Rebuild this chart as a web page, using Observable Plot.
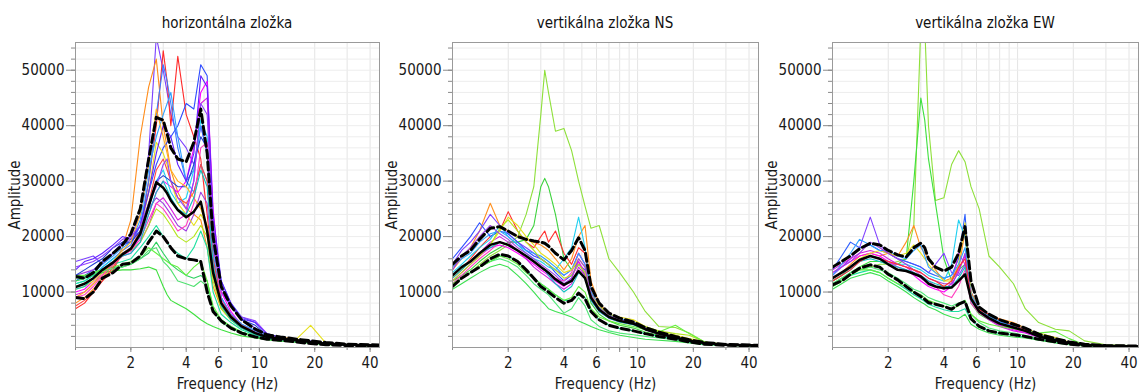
<!DOCTYPE html>
<html><head><meta charset="utf-8">
<script src="https://cdn.jsdelivr.net/npm/d3@7"></script>
<script src="https://cdn.jsdelivr.net/npm/@observablehq/plot@0.6"></script>
<style>
body{margin:0;background:#fff;font-family:"DejaVu Sans Condensed","DejaVu Sans",sans-serif;}
#row{display:flex;width:1139px;height:392px;overflow:hidden;}
.title{height:30px;box-sizing:border-box;padding-top:14px;line-height:18px;font-size:15px;color:#111;text-align:center;white-space:nowrap;}
svg{display:block;}
#row svg text{font-size:14px !important;font-family:"DejaVu Sans Condensed","DejaVu Sans",sans-serif !important;fill:#1a1a1a;}
#row svg [aria-label$="label"] text{font-size:15px !important;}
</style></head><body><div id="row"></div>
<script>
// Frequencies (Hz) shared by every series
const FREQ = [1.0, 1.12, 1.25, 1.4, 1.6, 1.8, 2.0, 2.25, 2.5, 2.75, 3.0, 3.15, 3.3, 3.6, 4.0, 4.4, 4.8, 5.2, 5.6, 6.2, 7.0, 8.0, 9.5, 11, 13, 16, 19, 23, 30, 45];
// Amplitudes below are in thousands

// ---- horizontálna zložka ----
const H_MEAN  = [10.9, 11.5, 12.5, 14.0, 15.3, 16.8, 17.8, 20.5, 25.5, 29.8, 28.8, 27.8, 26.5, 24.8, 23.5, 24.5, 26.3, 21.0, 13.5, 8.0, 5.5, 3.8, 2.6, 1.9, 1.6, 1.3, 1.0, 0.7, 0.5, 0.35];
const H_UPPER = [12.8, 12.5, 13.5, 15.5, 17.0, 18.5, 20.5, 25.0, 34.0, 41.5, 41.0, 38.5, 36.0, 34.0, 33.5, 37.0, 43.0, 35.0, 20.0, 11.0, 7.5, 5.0, 3.3, 2.3, 1.9, 1.5, 1.2, 0.9, 0.6, 0.45];
const H_LOWER = [9.0, 8.8, 10.0, 12.5, 13.5, 15.0, 15.2, 16.5, 19.0, 21.0, 20.0, 19.0, 18.0, 16.5, 16.0, 15.8, 15.5, 10.0, 6.5, 4.8, 3.5, 2.6, 1.9, 1.5, 1.3, 1.0, 0.7, 0.5, 0.35, 0.25];
const H_COLORS = ["#7b3fff","#ff2a2a","#ff8c1a","#2f4cff","#3d7bff","#ff00ff","#d81ee0","#a040e0","#1ed2f0","#2fa0ff","#e6e01e","#b4e61e","#3ee03e","#2ed060","#64f040","#1ee0a0","#ff4444","#6020ff","#2040d0","#ffb01e","#ff40c0","#10c0c0","#50e070","#9040ff"];
const H_CURVES = [
 [15.5, 16.0, 16.5, 15.0, 17.0, 19.0, 20.0, 24.0, 35.0, 56.0, 50.0, 46.0, 42.0, 38.0, 36.0, 33.0, 40.0, 35.0, 18.0, 10.0, 7.5, 5.0, 3.5, 2.2, 1.8, 1.4, 1.1, 0.8, 0.5, 0.35],
 [7.0, 8.0, 10.0, 12.0, 14.0, 17.0, 17.5, 21.0, 30.0, 40.0, 53.5, 48.0, 40.0, 52.5, 42.0, 38.0, 34.0, 24.0, 14.0, 8.0, 5.5, 4.0, 2.6, 1.8, 1.5, 1.2, 0.9, 0.6, 0.4, 0.3],
 [8.0, 9.0, 10.5, 12.5, 15.0, 18.0, 23.0, 38.0, 47.0, 52.0, 40.0, 36.0, 32.0, 28.0, 25.0, 24.0, 23.0, 18.0, 11.0, 7.0, 5.0, 3.6, 2.4, 1.8, 1.4, 1.2, 0.9, 0.6, 0.4, 0.3],
 [12.0, 13.0, 14.0, 15.5, 17.0, 18.5, 19.0, 22.0, 28.0, 33.0, 36.0, 37.0, 38.0, 40.0, 44.0, 43.0, 51.0, 49.0, 22.0, 12.0, 8.0, 5.5, 4.5, 2.5, 1.8, 1.4, 1.1, 0.8, 0.5, 0.35],
 [11.0, 11.5, 12.5, 14.5, 16.0, 17.5, 18.5, 22.0, 30.0, 42.0, 51.0, 48.0, 44.0, 36.0, 30.0, 32.0, 40.0, 35.0, 16.0, 9.0, 6.0, 4.2, 3.0, 2.0, 1.6, 1.3, 1.0, 0.7, 0.45, 0.3],
 [10.0, 10.5, 12.0, 14.0, 15.5, 17.0, 17.5, 20.0, 24.0, 28.0, 30.0, 29.5, 29.0, 28.0, 30.0, 36.0, 46.0, 48.0, 25.0, 10.0, 6.5, 4.0, 2.8, 1.9, 1.5, 1.2, 0.9, 0.6, 0.4, 0.3],
 [9.5, 10.0, 11.5, 13.5, 15.0, 16.5, 17.0, 19.0, 22.0, 26.0, 27.0, 26.0, 25.0, 23.0, 24.0, 30.0, 44.0, 45.0, 22.0, 9.0, 6.0, 3.8, 2.6, 1.8, 1.4, 1.1, 0.9, 0.6, 0.4, 0.3],
 [13.0, 13.5, 14.0, 15.0, 17.0, 18.5, 19.5, 21.0, 25.0, 27.0, 26.0, 25.0, 24.0, 22.0, 21.0, 24.0, 28.0, 26.0, 15.0, 8.0, 5.5, 4.0, 2.8, 1.9, 1.5, 1.2, 0.9, 0.6, 0.4, 0.3],
 [11.5, 12.0, 13.0, 14.5, 16.0, 17.0, 18.0, 20.0, 25.0, 30.0, 32.0, 30.0, 28.0, 26.0, 27.0, 32.0, 41.0, 38.0, 20.0, 9.0, 5.5, 3.8, 2.6, 1.8, 1.4, 1.1, 0.9, 0.6, 0.4, 0.3],
 [12.0, 12.5, 13.5, 15.0, 16.5, 18.0, 19.0, 23.0, 32.0, 38.0, 42.0, 44.0, 46.0, 38.0, 30.0, 28.0, 33.0, 30.0, 17.0, 9.0, 6.0, 4.2, 3.0, 2.0, 1.6, 1.3, 1.0, 0.7, 0.45, 0.3],
 [10.5, 11.0, 12.0, 13.5, 15.0, 16.5, 18.0, 21.0, 28.0, 37.0, 35.0, 33.0, 30.0, 26.0, 24.0, 22.0, 24.0, 22.0, 13.0, 7.5, 5.0, 3.5, 2.4, 1.8, 1.5, 1.6, 4.0, 0.8, 0.4, 0.3],
 [11.0, 11.5, 12.5, 14.0, 15.5, 17.0, 17.5, 19.0, 22.0, 25.0, 24.0, 23.0, 22.0, 20.0, 19.0, 20.0, 22.0, 20.0, 12.0, 7.0, 5.0, 3.5, 2.4, 1.7, 1.4, 1.1, 0.9, 0.6, 0.4, 0.3],
 [12.0, 12.5, 13.0, 13.5, 13.8, 14.0, 14.0, 14.2, 14.5, 14.0, 11.0, 9.5, 8.5, 7.8, 7.0, 6.0, 5.0, 4.3, 3.8, 3.2, 2.6, 2.1, 1.7, 1.4, 1.2, 1.0, 0.8, 0.55, 0.4, 0.3],
 [12.5, 13.0, 13.5, 14.0, 14.5, 14.5, 15.0, 16.0, 17.0, 19.0, 17.0, 16.0, 15.0, 14.0, 13.0, 12.5, 13.0, 12.0, 7.0, 5.0, 3.8, 2.8, 2.0, 1.5, 1.2, 1.0, 0.8, 0.55, 0.4, 0.3],
 [13.0, 13.0, 13.5, 14.0, 14.5, 15.0, 15.5, 16.5, 18.0, 17.0, 16.0, 15.5, 15.0, 14.5, 13.0, 14.5, 15.5, 12.0, 7.5, 5.0, 3.8, 2.8, 2.0, 1.5, 1.2, 1.0, 0.8, 0.55, 0.4, 0.3],
 [11.5, 12.0, 13.0, 14.0, 15.0, 15.5, 16.0, 18.0, 20.0, 22.0, 20.0, 19.0, 18.0, 17.0, 16.0, 18.0, 21.0, 18.0, 10.0, 6.0, 4.5, 3.2, 2.2, 1.6, 1.3, 1.1, 0.85, 0.6, 0.4, 0.3],
 [7.5, 8.5, 10.0, 12.0, 14.5, 17.0, 18.0, 21.0, 26.0, 32.0, 34.0, 32.0, 30.0, 27.0, 26.0, 28.0, 33.0, 30.0, 16.0, 8.5, 5.8, 4.0, 2.7, 1.9, 1.5, 1.2, 0.9, 0.6, 0.4, 0.3],
 [14.0, 15.5, 16.0, 17.0, 18.5, 20.0, 19.5, 22.0, 28.0, 35.0, 40.0, 39.0, 38.0, 33.0, 30.0, 35.0, 49.0, 47.0, 24.0, 12.0, 8.0, 5.2, 4.5, 2.4, 1.7, 1.3, 1.0, 0.7, 0.45, 0.3],
 [13.0, 14.0, 15.0, 16.0, 18.0, 19.0, 19.0, 21.0, 26.0, 30.0, 31.0, 30.5, 30.0, 29.0, 29.0, 33.0, 38.0, 36.0, 20.0, 11.0, 7.5, 5.0, 4.0, 2.2, 1.6, 1.3, 1.0, 0.7, 0.45, 0.3],
 [9.0, 10.0, 11.5, 13.0, 15.5, 17.5, 19.0, 24.0, 33.0, 43.0, 38.0, 35.0, 32.0, 30.0, 29.0, 27.0, 25.0, 22.0, 13.0, 7.5, 5.2, 3.7, 2.5, 1.8, 1.9, 1.5, 1.0, 0.6, 0.4, 0.3],
 [9.0, 9.5, 11.0, 13.0, 15.0, 16.5, 17.5, 19.5, 23.0, 26.0, 25.0, 24.0, 23.0, 21.0, 22.0, 26.0, 36.0, 37.0, 20.0, 8.5, 5.5, 3.6, 2.5, 1.8, 1.4, 1.1, 0.9, 0.6, 0.4, 0.3],
 [10.5, 11.0, 12.5, 14.0, 15.5, 16.5, 17.0, 19.0, 24.0, 28.0, 30.0, 28.5, 27.0, 25.0, 24.0, 27.0, 32.0, 29.0, 15.0, 7.5, 5.0, 3.5, 2.4, 1.7, 1.4, 1.1, 0.9, 0.6, 0.4, 0.3],
 [12.5, 12.8, 13.2, 13.8, 14.2, 14.5, 15.0, 16.0, 17.5, 18.0, 15.5, 14.8, 14.0, 12.0, 11.5, 11.0, 12.0, 11.0, 6.5, 4.5, 3.5, 2.6, 1.9, 1.5, 1.2, 1.0, 0.8, 0.55, 0.4, 0.3],
 [14.5, 15.0, 15.5, 16.5, 18.0, 19.5, 20.0, 22.0, 26.0, 29.0, 33.0, 34.0, 30.0, 27.0, 25.0, 30.0, 44.0, 42.0, 21.0, 11.0, 7.5, 5.5, 4.8, 2.5, 1.7, 1.3, 1.0, 0.7, 0.45, 0.3]
];

// ---- vertikálna zložka NS ----
const NS_MEAN  = [13.0, 14.5, 15.5, 17.0, 18.5, 19.0, 18.5, 17.5, 16.5, 15.5, 14.5, 14.0, 13.5, 12.3, 11.3, 12.0, 13.8, 12.5, 9.0, 6.8, 5.5, 4.8, 4.3, 3.3, 2.5, 1.8, 1.2, 0.8, 0.5, 0.35];
const NS_UPPER = [15.0, 16.5, 17.5, 19.5, 21.5, 21.8, 21.0, 20.0, 19.5, 19.2, 19.0, 18.8, 18.3, 17.0, 15.8, 17.5, 19.8, 17.5, 11.0, 8.0, 6.2, 5.3, 4.6, 3.6, 2.8, 2.0, 1.4, 0.9, 0.55, 0.4];
const NS_LOWER = [11.0, 12.5, 13.5, 14.5, 16.0, 16.8, 16.5, 15.5, 14.0, 12.5, 11.0, 10.5, 10.0, 9.0, 8.0, 8.5, 9.8, 8.8, 6.5, 5.0, 4.0, 3.5, 3.0, 2.5, 2.0, 1.5, 1.0, 0.6, 0.4, 0.3];
const NS_COLORS = ["#8ee03a","#3cd23c","#3ce050","#50e878","#ff9020","#ff3030","#8040ff","#3050ff","#20d0f0","#ff00ff","#d020e0","#ff40c0","#2fa0ff","#e6e01e","#b4e61e","#1ee0a0","#a040e0","#10c0c0","#64f040"];
const NS_CURVES = [
 [11.0, 12.5, 13.5, 15.0, 16.5, 17.5, 18.5, 20.0, 24.0, 29.0, 42.0, 50.0, 46.0, 39.0, 39.5, 35.5, 30.0, 25.5, 21.5, 22.0, 16.0, 13.5, 10.0, 6.5, 3.8, 3.6, 2.6, 1.0, 0.5, 0.35],
 [12.0, 13.0, 14.0, 15.5, 17.0, 18.0, 19.0, 19.0, 19.5, 22.0, 29.0, 30.5, 29.0, 24.0, 16.0, 14.0, 15.5, 13.0, 8.0, 6.0, 4.8, 4.0, 3.5, 2.8, 2.2, 1.6, 1.1, 0.7, 0.45, 0.3],
 [10.5, 11.5, 12.5, 13.5, 14.5, 15.0, 14.5, 13.0, 11.5, 10.0, 8.5, 7.8, 7.0, 6.5, 6.0, 5.5, 4.8, 4.3, 3.8, 3.2, 2.7, 2.2, 1.8, 1.5, 1.3, 1.1, 0.8, 0.5, 0.35, 0.25],
 [11.5, 12.5, 13.5, 14.5, 15.5, 16.0, 15.5, 14.5, 13.0, 11.5, 10.5, 10.0, 9.5, 8.0, 6.2, 7.0, 9.0, 7.5, 5.0, 3.8, 3.0, 2.6, 2.3, 2.0, 1.7, 1.4, 1.0, 0.6, 0.4, 0.3],
 [14.0, 16.0, 18.0, 21.0, 26.0, 22.0, 21.0, 20.0, 19.5, 19.0, 18.5, 18.0, 17.5, 16.0, 14.0, 16.0, 20.0, 22.0, 12.0, 8.0, 6.0, 5.2, 4.6, 3.6, 2.8, 2.0, 1.4, 0.9, 0.55, 0.4],
 [12.5, 14.0, 16.0, 18.0, 20.0, 21.0, 24.5, 21.0, 19.0, 18.0, 20.0, 21.0, 19.0, 21.0, 17.0, 15.0, 18.0, 17.0, 10.0, 7.5, 5.8, 5.0, 4.4, 3.4, 2.6, 1.9, 1.3, 0.8, 0.5, 0.35],
 [15.0, 17.5, 19.0, 21.0, 24.0, 22.0, 20.5, 19.0, 18.0, 17.0, 16.0, 15.5, 15.0, 14.0, 13.0, 14.0, 17.0, 15.0, 10.0, 7.0, 5.8, 5.0, 4.5, 3.5, 2.6, 1.9, 1.3, 0.85, 0.5, 0.35],
 [16.0, 18.0, 20.0, 22.5, 20.0, 21.0, 20.5, 19.0, 17.5, 16.5, 16.0, 15.5, 15.0, 13.5, 12.0, 13.0, 15.0, 14.0, 9.5, 7.2, 5.8, 5.2, 4.6, 3.5, 2.7, 1.9, 1.3, 0.85, 0.5, 0.35],
 [13.5, 15.0, 16.5, 18.0, 19.5, 22.0, 20.0, 18.5, 17.0, 16.0, 15.5, 15.0, 14.5, 14.0, 16.0, 18.0, 23.5, 18.0, 9.5, 7.0, 5.6, 4.9, 4.4, 3.4, 2.6, 1.9, 1.3, 0.85, 0.5, 0.35],
 [12.0, 13.5, 15.0, 16.5, 18.0, 18.5, 18.0, 17.0, 16.0, 15.0, 14.0, 13.5, 13.0, 12.0, 11.0, 12.5, 15.5, 13.5, 9.0, 6.8, 5.5, 4.8, 4.3, 3.3, 2.5, 1.8, 1.2, 0.8, 0.5, 0.35],
 [13.0, 14.5, 15.5, 17.0, 19.0, 20.0, 19.0, 17.5, 16.0, 14.5, 13.5, 13.0, 12.5, 11.5, 10.5, 11.5, 14.5, 13.0, 8.5, 6.5, 5.3, 4.6, 4.1, 3.2, 2.4, 1.7, 1.2, 0.8, 0.5, 0.35],
 [11.5, 13.0, 14.5, 16.0, 17.5, 19.0, 18.5, 17.5, 16.5, 15.5, 14.5, 14.0, 13.5, 12.5, 12.0, 13.5, 17.0, 15.0, 9.5, 7.0, 5.6, 4.9, 4.4, 3.4, 2.6, 1.9, 1.3, 0.85, 0.5, 0.35],
 [14.5, 16.0, 17.0, 19.0, 20.5, 21.0, 20.0, 18.5, 17.5, 17.0, 16.5, 16.0, 15.5, 14.5, 13.0, 14.0, 17.0, 15.0, 10.0, 7.5, 6.0, 5.2, 4.6, 3.6, 2.7, 2.0, 1.4, 0.9, 0.55, 0.4],
 [12.5, 14.0, 15.5, 17.0, 18.5, 21.0, 23.5, 22.0, 20.0, 18.5, 17.0, 16.5, 16.0, 15.0, 13.5, 14.0, 16.0, 14.5, 9.5, 7.5, 6.0, 5.5, 5.0, 3.8, 2.8, 2.2, 1.6, 1.0, 0.55, 0.4],
 [12.0, 13.5, 15.0, 16.5, 18.5, 21.5, 23.0, 21.0, 19.0, 17.5, 16.0, 15.5, 15.0, 14.0, 12.5, 13.0, 15.0, 13.5, 9.0, 7.0, 5.7, 5.0, 4.5, 3.8, 3.0, 2.5, 2.2, 1.0, 0.55, 0.4],
 [11.0, 12.5, 13.5, 14.5, 15.5, 16.5, 16.5, 15.5, 14.0, 12.5, 11.5, 11.0, 10.5, 9.5, 8.5, 8.5, 9.5, 9.0, 6.5, 5.0, 4.0, 3.4, 3.0, 2.5, 2.0, 1.5, 1.0, 0.6, 0.4, 0.3],
 [14.0, 16.5, 18.0, 20.0, 22.0, 20.5, 19.5, 18.0, 17.0, 16.0, 15.0, 14.5, 14.0, 13.0, 11.5, 12.5, 16.0, 14.5, 9.5, 7.0, 5.7, 5.0, 4.5, 3.5, 2.6, 1.9, 1.3, 0.85, 0.5, 0.35],
 [12.5, 14.0, 15.5, 17.0, 18.0, 19.0, 18.5, 17.5, 16.5, 15.5, 14.5, 14.0, 13.0, 11.5, 10.0, 11.0, 13.5, 12.5, 8.5, 6.5, 5.3, 4.6, 4.1, 3.2, 2.5, 1.8, 1.2, 0.8, 0.5, 0.35],
 [11.5, 12.5, 13.5, 14.5, 15.5, 16.5, 16.0, 15.0, 13.5, 12.5, 11.5, 11.0, 10.5, 9.5, 8.5, 9.0, 11.0, 10.0, 7.0, 5.5, 4.8, 4.3, 3.8, 3.2, 2.8, 4.0, 2.5, 1.0, 0.5, 0.35]
];

// ---- vertikálna zložka EW ----
const EW_MEAN  = [12.5, 13.5, 14.5, 15.8, 16.5, 16.0, 15.0, 14.0, 13.8, 13.3, 12.8, 12.2, 11.5, 11.0, 10.7, 10.8, 12.0, 13.2, 8.8, 6.5, 5.3, 4.3, 3.6, 3.0, 2.0, 1.3, 0.8, 0.5, 0.3, 0.2];
const EW_UPPER = [14.5, 15.5, 16.5, 17.8, 18.8, 18.5, 17.5, 16.7, 16.3, 18.0, 18.8, 18.0, 16.0, 14.5, 13.8, 14.5, 17.0, 21.8, 12.0, 7.3, 6.0, 5.0, 4.2, 3.5, 2.4, 1.6, 1.0, 0.6, 0.35, 0.25];
const EW_LOWER = [11.3, 12.0, 13.2, 14.3, 14.9, 14.5, 13.2, 12.2, 11.0, 10.0, 9.2, 8.7, 8.1, 7.8, 7.4, 6.9, 7.8, 8.3, 5.2, 3.8, 3.0, 2.6, 2.3, 2.0, 1.5, 1.0, 0.6, 0.35, 0.2, 0.15];
const EW_COLORS = ["#8ee03a","#3ee03e","#8040ff","#2f60ff","#ff9020","#20d0f0","#ff00ff","#d020e0","#ff40c0","#e6e01e","#1ee0a0","#3ce050","#50e878","#2fa0ff","#a040e0","#10c0c0","#64f040","#ff3030"];
const EW_CURVES = [
 [11.0, 12.0, 13.0, 14.0, 14.5, 15.0, 15.0, 15.5, 16.0, 22.0, 58.0, 58.0, 40.0, 26.5, 27.0, 33.0, 35.5, 33.5, 29.0, 25.0, 16.5, 14.5, 11.5, 7.0, 4.5, 3.3, 3.0, 1.2, 0.5, 0.3],
 [11.5, 12.5, 13.5, 14.5, 15.5, 15.5, 15.0, 15.0, 16.0, 30.0, 45.0, 41.0, 34.0, 26.0, 16.0, 12.0, 14.0, 15.0, 8.0, 6.0, 5.0, 4.0, 3.4, 2.9, 2.0, 1.3, 0.8, 0.5, 0.3, 0.2],
 [13.0, 14.5, 16.0, 18.0, 23.5, 18.5, 17.0, 16.0, 15.5, 15.0, 14.5, 14.0, 13.5, 15.0, 17.0, 13.5, 13.0, 15.0, 9.0, 6.8, 5.5, 4.5, 3.8, 3.1, 2.1, 1.4, 0.85, 0.5, 0.3, 0.2],
 [14.0, 16.5, 19.0, 18.0, 18.5, 17.5, 17.0, 16.0, 15.5, 15.0, 14.5, 14.0, 13.5, 13.0, 12.5, 13.0, 16.0, 24.0, 10.0, 7.0, 5.6, 4.6, 3.9, 3.2, 2.2, 1.4, 0.9, 0.5, 0.3, 0.2],
 [12.5, 13.5, 15.0, 16.5, 17.0, 16.5, 17.0, 16.5, 19.0, 22.0, 18.0, 17.0, 16.0, 14.0, 12.0, 12.5, 14.0, 21.0, 10.0, 7.0, 5.8, 5.2, 4.5, 3.5, 2.4, 1.5, 0.9, 0.55, 0.3, 0.2],
 [12.0, 13.0, 14.0, 15.5, 16.5, 16.0, 15.5, 15.0, 15.0, 14.5, 14.0, 13.5, 13.0, 12.5, 12.0, 15.0, 23.0, 20.0, 9.5, 6.8, 5.5, 4.5, 3.8, 3.1, 2.1, 1.4, 0.85, 0.5, 0.3, 0.2],
 [13.5, 14.5, 15.5, 16.5, 17.0, 16.5, 15.5, 14.5, 14.0, 13.0, 12.0, 11.5, 11.0, 10.5, 10.0, 11.0, 14.0, 16.5, 8.5, 6.5, 5.3, 4.0, 3.2, 2.7, 1.9, 1.2, 0.8, 0.5, 0.3, 0.2],
 [14.0, 15.0, 16.0, 17.0, 17.5, 17.0, 16.0, 15.0, 14.5, 13.5, 12.5, 12.0, 11.5, 11.0, 10.5, 11.5, 17.0, 15.0, 8.5, 6.3, 5.0, 3.8, 3.0, 2.6, 1.8, 1.2, 0.75, 0.45, 0.3, 0.2],
 [12.5, 13.5, 14.5, 15.5, 16.5, 16.0, 15.5, 15.0, 14.5, 14.0, 13.0, 12.5, 12.0, 11.0, 9.5, 9.0, 11.0, 14.0, 8.0, 6.2, 5.2, 4.2, 3.5, 2.9, 2.0, 1.3, 0.8, 0.5, 0.3, 0.2],
 [12.0, 13.0, 14.5, 16.0, 17.0, 17.5, 17.0, 16.5, 17.0, 18.5, 17.0, 16.0, 15.0, 13.5, 12.0, 12.0, 15.0, 22.5, 9.5, 7.0, 5.7, 5.0, 4.2, 3.3, 2.6, 1.8, 1.0, 0.6, 0.3, 0.2],
 [11.0, 12.0, 13.0, 13.5, 14.0, 13.5, 12.5, 11.5, 10.5, 9.5, 8.8, 8.3, 7.8, 7.3, 6.8, 6.5, 6.5, 7.0, 5.0, 3.8, 3.0, 2.5, 2.2, 1.9, 1.4, 0.9, 0.6, 0.35, 0.2, 0.15],
 [10.5, 11.5, 12.5, 13.0, 13.5, 13.0, 12.0, 11.0, 10.0, 9.0, 8.2, 7.8, 7.3, 6.8, 6.0, 5.5, 5.2, 6.0, 4.2, 3.3, 2.6, 2.2, 1.9, 1.7, 1.3, 0.8, 0.5, 0.3, 0.2, 0.15],
 [11.5, 12.5, 13.5, 14.0, 14.5, 14.0, 13.5, 12.5, 11.5, 10.5, 10.0, 9.5, 9.0, 8.5, 8.0, 7.5, 8.0, 8.5, 6.0, 4.5, 3.5, 3.0, 2.6, 2.2, 1.6, 1.0, 0.65, 0.4, 0.25, 0.15],
 [13.0, 15.0, 17.0, 19.5, 18.5, 17.5, 17.5, 16.5, 16.0, 17.5, 18.5, 16.5, 14.5, 13.5, 12.5, 13.0, 15.0, 18.0, 9.5, 7.0, 5.7, 4.8, 4.0, 3.3, 2.3, 1.5, 0.9, 0.55, 0.3, 0.2],
 [13.5, 14.5, 15.5, 17.0, 19.0, 18.0, 17.0, 16.0, 15.0, 14.0, 13.5, 13.0, 12.5, 12.0, 11.5, 11.5, 13.5, 17.0, 9.0, 6.7, 5.4, 4.4, 3.7, 3.0, 2.0, 1.3, 0.85, 0.5, 0.3, 0.2],
 [12.0, 13.0, 14.5, 15.5, 16.0, 15.5, 15.0, 14.5, 14.0, 13.5, 13.0, 12.5, 12.0, 11.5, 11.0, 11.0, 12.5, 14.5, 8.5, 6.5, 5.3, 4.3, 3.6, 3.0, 2.0, 1.3, 0.8, 0.5, 0.3, 0.2],
 [11.0, 12.0, 13.0, 14.0, 14.0, 13.5, 12.5, 11.5, 11.0, 10.0, 9.5, 9.0, 8.5, 8.0, 7.5, 7.0, 7.5, 8.5, 6.0, 4.8, 4.2, 3.8, 3.4, 3.0, 2.6, 2.9, 1.6, 0.5, 0.3, 0.2],
 [12.0, 13.0, 14.0, 15.5, 16.5, 16.0, 15.5, 15.0, 14.5, 14.0, 13.5, 13.0, 12.5, 12.0, 11.0, 12.0, 14.5, 16.0, 9.0, 6.8, 6.0, 5.0, 4.0, 3.2, 2.1, 1.4, 0.85, 0.5, 0.3, 0.2]
];

// Axis ticks
const X_LABEL_TICKS = [2, 4, 6, 8, 10, 20, 40];
const X_MINOR_TICKS = [1, 2, 3, 4, 5, 6, 7, 8, 9, 10, 20, 30, 40];
const Y_LABEL_TICKS = [10000, 20000, 30000, 40000, 50000];
const Y_MINOR_TICKS = d3.range(2000, 55000, 2000);

const PANELS = [
  {title: "horizontálna zložka", curves: H_CURVES, colors: H_COLORS, mean: H_MEAN, upper: H_UPPER, lower: H_LOWER, width: 380, ml: 75, mr: 1},
  {title: "vertikálna zložka NS", curves: NS_CURVES, colors: NS_COLORS, mean: NS_MEAN, upper: NS_UPPER, lower: NS_LOWER, width: 380, ml: 72, mr: 2},
  {title: "vertikálna zložka EW", curves: EW_CURVES, colors: EW_COLORS, mean: EW_MEAN, upper: EW_UPPER, lower: EW_LOWER, width: 379, ml: 72, mr: 1}
];

const toRows = (vals) => vals.map((v, j) => ({f: FREQ[j], a: v * 1000}));

const row = document.getElementById("row");
for (const p of PANELS) {
  const rows = [];
  p.curves.forEach((vals, i) => vals.forEach((v, j) => rows.push({f: FREQ[j], a: v * 1000, k: i, c: p.colors[i]})));
  const chart = Plot.plot({
    width: p.width, height: 362,
    marginLeft: p.ml, marginRight: p.mr, marginTop: 12, marginBottom: 45,
    style: {background: "#fff"},
    x: {type: "log", domain: [1, 45]},
    y: {domain: [0, 55000]},
    color: {type: "identity"},
    marks: [
      Plot.gridX(X_MINOR_TICKS, {stroke: "#e4e4e4", strokeOpacity: 1}),
      Plot.gridY(Y_MINOR_TICKS, {stroke: "#ededed", strokeOpacity: 1}),
      Plot.axisY({ticks: Y_MINOR_TICKS, tickSize: 4, tickFormat: () => "", label: null, stroke: "#8a8a8a"}),
      Plot.axisY({ticks: Y_LABEL_TICKS, tickSize: 9, tickPadding: 2, tickFormat: d => String(d), label: "Amplitude", labelAnchor: "center", labelArrow: "none", labelOffset: 66, stroke: "#8a8a8a"}),
      Plot.axisX({ticks: X_MINOR_TICKS, tickSize: 3, tickFormat: () => "", label: null, stroke: "#8a8a8a"}),
      Plot.axisX({ticks: X_LABEL_TICKS, tickSize: 5, tickPadding: 5, tickFormat: d => String(d), label: "Frequency (Hz)", labelAnchor: "center", labelArrow: "none", labelOffset: 41, stroke: "#8a8a8a"}),
      Plot.line(rows, {x: "f", y: "a", z: "k", stroke: "c", strokeWidth: 1.1, clip: true}),
      Plot.line(toRows(p.upper), {x: "f", y: "a", stroke: "#000", strokeWidth: 3, strokeDasharray: "8,4", clip: true}),
      Plot.line(toRows(p.lower), {x: "f", y: "a", stroke: "#000", strokeWidth: 3, strokeDasharray: "8,4", clip: true}),
      Plot.line(toRows(p.mean), {x: "f", y: "a", stroke: "#000", strokeWidth: 2.5, clip: true}),
      Plot.frame({stroke: "#9a9a9a"})
    ]
  });
  const wrap = document.createElement("div");
  wrap.style.width = p.width + "px";
  const t = document.createElement("div");
  t.className = "title";
  t.style.paddingLeft = p.ml + "px";
  t.style.paddingRight = p.mr + "px";
  t.textContent = p.title;
  wrap.appendChild(t);
  wrap.appendChild(chart);
  row.appendChild(wrap);
}
</script></body></html>
